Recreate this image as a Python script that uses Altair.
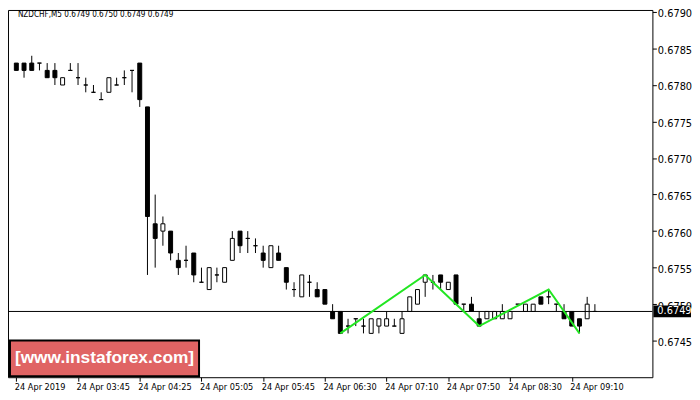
import json
import altair as alt
import pandas as pd

# ---------------- data ----------------
bars = list(range(76))
opens = [0.6783, 0.6783, 0.6783, 0.6783, 0.6782, 0.6782, 0.6780, 0.6782, 0.6781, 0.6780,
         0.6779, 0.6778, 0.6779, 0.6780, 0.6781, 0.6782, 0.6783, 0.6777, 0.6761, 0.6760,
         0.6760, 0.6756, 0.6756, 0.6757, 0.6753, 0.6752, 0.6754, 0.6753, 0.6756, 0.6760,
         0.6759, 0.6758, 0.6757, 0.6755, 0.6757, 0.6755, 0.6752, 0.6751, 0.6753, 0.6752,
         0.6752, 0.6749, 0.6749, 0.6747, 0.6748, 0.6747, 0.6746, 0.6747, 0.6747, 0.6747,
         0.6746, 0.6749, 0.6750, 0.6753, 0.6753, 0.6754, 0.6752, 0.6754, 0.6750, 0.6750,
         0.6748, 0.6748, 0.6748, 0.6748, 0.6748, 0.6750, 0.6749, 0.6749, 0.6751, 0.6751,
         0.6750, 0.6749, 0.6749, 0.6748, 0.6748, 0.6749]
highs = [0.6783, 0.6783, 0.6784, 0.6783, 0.6783, 0.6783, 0.6781, 0.6783, 0.6783, 0.6781,
         0.6780, 0.6779, 0.6781, 0.6781, 0.6782, 0.6782, 0.6783, 0.6777, 0.6765, 0.6762,
         0.6760, 0.6757, 0.6758, 0.6757, 0.6755, 0.6755, 0.6755, 0.6755, 0.6760, 0.6760,
         0.6760, 0.6759, 0.6758, 0.6758, 0.6758, 0.6755, 0.6753, 0.6754, 0.6754, 0.6753,
         0.6752, 0.6750, 0.6749, 0.6748, 0.6748, 0.6748, 0.6748, 0.6748, 0.6749, 0.6748,
         0.6749, 0.6751, 0.6752, 0.6754, 0.6754, 0.6754, 0.6753, 0.6754, 0.6750, 0.6751,
         0.6749, 0.6749, 0.6749, 0.6750, 0.6749, 0.6750, 0.6750, 0.6750, 0.6751, 0.6752,
         0.6750, 0.6750, 0.6749, 0.6748, 0.6751, 0.6750]
lows = [0.6782, 0.6781, 0.6782, 0.6782, 0.6781, 0.6780, 0.6780, 0.6782, 0.6780, 0.6779,
        0.6779, 0.6778, 0.6779, 0.6780, 0.6780, 0.6779, 0.6777, 0.6754, 0.6755, 0.6758,
        0.6756, 0.6754, 0.6755, 0.6753, 0.6753, 0.6752, 0.6753, 0.6753, 0.6756, 0.6757,
        0.6757, 0.6757, 0.6755, 0.6755, 0.6756, 0.6752, 0.6751, 0.6751, 0.6751, 0.6751,
        0.6750, 0.6748, 0.6746, 0.6746, 0.6747, 0.6746, 0.6746, 0.6746, 0.6747, 0.6747,
        0.6746, 0.6749, 0.6750, 0.6751, 0.6752, 0.6752, 0.6752, 0.6750, 0.6749, 0.6749,
        0.6747, 0.6748, 0.6748, 0.6748, 0.6748, 0.6750, 0.6749, 0.6749, 0.6750, 0.6750,
        0.6749, 0.6748, 0.6747, 0.6746, 0.6748, 0.6749]
closes = [0.6782, 0.6782, 0.6782, 0.6783, 0.6781, 0.6781, 0.6781, 0.6782, 0.6781, 0.6780,
          0.6779, 0.6778, 0.6781, 0.6780, 0.6781, 0.6782, 0.6778, 0.6762, 0.6759, 0.6761,
          0.6757, 0.6755, 0.6756, 0.6754, 0.6753, 0.6755, 0.6754, 0.6755, 0.6759, 0.6758,
          0.6759, 0.6758, 0.6756, 0.6758, 0.6756, 0.6753, 0.6752, 0.6754, 0.6753, 0.6751,
          0.6750, 0.6748, 0.6746, 0.6747, 0.6748, 0.6747, 0.6748, 0.6748, 0.6748, 0.6747,
          0.6748, 0.6751, 0.6752, 0.6754, 0.6753, 0.6753, 0.6753, 0.6750, 0.6750, 0.6749,
          0.6747, 0.6749, 0.6749, 0.6749, 0.6749, 0.6750, 0.6750, 0.6750, 0.6750, 0.6751,
          0.6750, 0.6748, 0.6747, 0.6747, 0.6750, 0.6749]

tick_bars = [0, 8, 16, 24, 32, 40, 48, 56, 64, 72]
tick_labels = ["24 Apr 2019", "24 Apr 03:45", "24 Apr 04:25", "24 Apr 05:05", "24 Apr 05:45",
               "24 Apr 06:30", "24 Apr 07:10", "24 Apr 07:50", "24 Apr 08:30", "24 Apr 09:10"]
y_ticks = [0.6745, 0.6750, 0.6755, 0.6760, 0.6765, 0.6770, 0.6775, 0.6780, 0.6785, 0.6790]

zig_bars = [42, 53, 60, 69, 73]
zig_prices = [0.6746, 0.6754, 0.6747, 0.6752, 0.6746]

current_price = 0.6749
title_text = "NZDCHF,M5  0.6749 0.6750 0.6749 0.6749"
watermark = "[www.instaforex.com]"

# ---------------- chart ----------------
W, H = 651, 371
FONT = "DejaVu Sans Condensed, DejaVu Sans, sans-serif"

df = pd.DataFrame({"bar": bars, "open": opens, "high": highs, "low": lows, "close": closes})
df["dir"] = ["up" if c >= o else "down" for o, c in zip(opens, closes)]
zig = pd.DataFrame({"bar": zig_bars, "price": zig_prices})
one = pd.DataFrame({"k": [0]})

xscale = alt.Scale(domain=[-0.4375, 81.8125], nice=False, zero=False)
yscale = alt.Scale(domain=[0.6740, 0.679027], nice=False, zero=False)

label_expr = json.dumps(tick_labels) + "[round(datum.value / 8)]"

xax = alt.X("bar:Q", scale=xscale, title=None,
            axis=alt.Axis(values=tick_bars, labelExpr=label_expr, orient="bottom",
                          grid=False, domain=False, tickSize=4, tickColor="black",
                          labelAlign="left", labelAngle=0, labelPadding=1, labelOffset=-2,
                          labelFlush=False, labelOverlap=False, labelColor="black",
                          labelFont=FONT, labelFontSize=9.2))
yax_kw = dict(scale=yscale, title=None,
              axis=alt.Axis(values=y_ticks, format=".4f", orient="right", grid=False,
                            domain=False, tickSize=4, tickColor="black", labelPadding=1,
                            labelOffset=2,
                            labelColor="black", labelFont=FONT, labelFontSize=11,
                            labelBaseline="middle", labelFlush=False, labelOverlap=False))

wicks = alt.Chart(df).mark_rule(color="black", strokeWidth=1).encode(
    x=xax, y=alt.Y("low:Q", **yax_kw), y2="high:Q")

bodies = alt.Chart(df).mark_bar(size=4, stroke="black", strokeWidth=1).encode(
    x="bar:Q", y="open:Q", y2="close:Q",
    fill=alt.Fill("dir:N", scale=alt.Scale(domain=["up", "down"], range=["white", "black"]),
                  legend=None))

price_line = alt.Chart(one).mark_rule(color="black", strokeWidth=1).encode(
    x=alt.value(0), x2=alt.value(W), y=alt.datum(current_price))

zigzag = alt.Chart(zig).mark_line(color="#22e622", strokeWidth=2).encode(
    x="bar:Q", y="price:Q")

price_box = alt.Chart(one).mark_rect(fill="black").encode(
    x=alt.value(W + 1), x2=alt.value(W + 39),
    y=alt.datum(current_price + 0.00008), y2=alt.datum(current_price - 0.00008))

price_text = alt.Chart(one).mark_text(align="left", baseline="middle", color="white",
                                      font=FONT, fontSize=11).encode(
    x=alt.value(W + 5), y=alt.datum(current_price), text=alt.value(f"{current_price:.4f}"))

wm_box = alt.Chart(one).mark_rect(fill="#e06464", stroke="black", strokeWidth=2).encode(
    x=alt.value(2), x2=alt.value(193), y=alt.value(H - 37), y2=alt.value(H - 1))

wm_text = alt.Chart(one).mark_text(align="center", baseline="middle", color="white",
                                   font="Liberation Sans Narrow, Liberation Sans, sans-serif",
                                   fontWeight="bold", fontSize=17.5).encode(
    x=alt.value(97.5), y=alt.value(H - 19), text=alt.value(watermark))

title = alt.Chart(one).mark_text(align="left", baseline="middle", color="black",
                                 font=FONT, fontSize=8.2).encode(
    x=alt.value(10), y=alt.value(5), text=alt.value(title_text))

chart = alt.layer(wicks, bodies, price_line, zigzag, price_box, price_text,
                  wm_box, wm_text, title).properties(
    width=W, height=H,
    autosize=alt.AutoSizeParams(type="none"),
    padding={"left": 0, "top": 0, "right": 40, "bottom": 19},
    background="white",
).configure_view(stroke="black", strokeWidth=1)

chart.save("out.html", embed_options={"renderer": "svg", "actions": False})
